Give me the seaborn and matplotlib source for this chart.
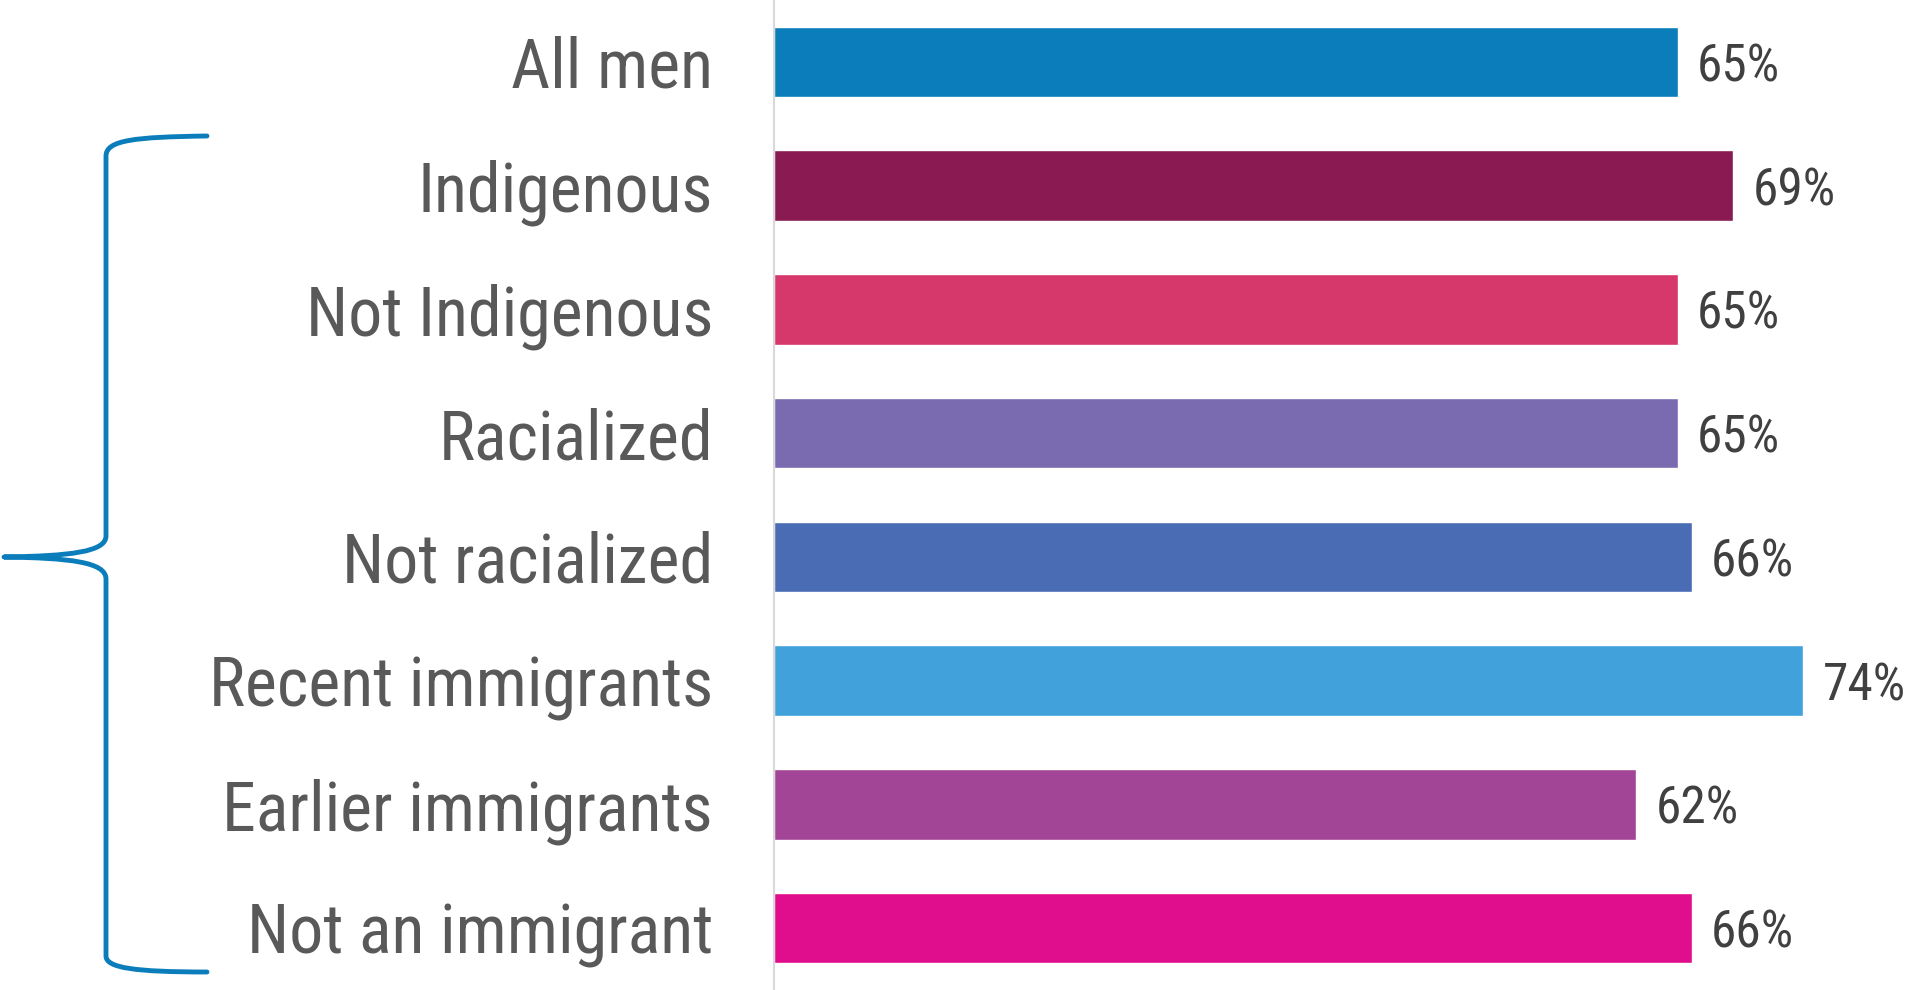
import matplotlib
matplotlib.use("Agg")
import matplotlib.pyplot as plt
import matplotlib.patches as mpatches
from matplotlib.path import Path
import pandas as pd
import seaborn as sns

categories = ["All men", "Indigenous", "Not Indigenous", "Racialized",
              "Not racialized", "Recent immigrants", "Earlier immigrants",
              "Not an immigrant"]
values     = [65, 69, 65, 65, 66, 74, 62, 66]
colors     = ["#0A7DBA", "#8A1A52", "#D6386B", "#7A6BB0",
              "#4A6CB4", "#41A2DB", "#A24596", "#E00E8C"]

sns.set_style("white")
plt.rcParams["font.family"] = ["Roboto Condensed", "Liberation Sans", "DejaVu Sans"]

W, H = 1910, 990
fig = plt.figure(figsize=(W / 100, H / 100), dpi=100)
ax  = fig.add_axes([774 / W, 0, 1 - 774 / W, 1])

df = pd.DataFrame({"category": categories, "value": values})
sns.barplot(data=df, y="category", x="value", hue="category",
            palette=colors, orient="h", width=0.57, legend=False,
            saturation=1, ax=ax)

for cont in ax.containers:
    for t in ax.bar_label(cont, labels=[f"{v:.0f}%" for v in cont.datavalues],
                          padding=14, fontsize=37, color="#404040"):
        t.set_va("center_baseline")

ax.set_xlim(0, 81.7)
ax.set_ylim(7.5, -0.5)
ax.set_xlabel("")
ax.set_ylabel("")
ax.set_xticks([])
ax.tick_params(axis="y", length=0, pad=44, labelsize=49, labelcolor="#595959")
for side in ["top", "right", "bottom"]:
    ax.spines[side].set_visible(False)
ax.spines["left"].set_color("#D9D9D9")
ax.spines["left"].set_linewidth(1.5)

# curly brace grouping the breakdown rows (figure pixel coords, y from top)
def fp(x, y):
    return (x / W, 1 - y / H)

verts = [fp(207, 136), fp(135, 137), fp(106, 140), fp(106, 156),
         fp(106, 536),
         fp(106, 552), fp(70, 556), fp(4, 557),
         fp(70, 558), fp(106, 562), fp(106, 579),
         fp(106, 956),
         fp(106, 968), fp(135, 972), fp(207, 972)]
codes = [Path.MOVETO, Path.CURVE4, Path.CURVE4, Path.CURVE4,
         Path.LINETO,
         Path.CURVE4, Path.CURVE4, Path.CURVE4,
         Path.CURVE4, Path.CURVE4, Path.CURVE4,
         Path.LINETO,
         Path.CURVE4, Path.CURVE4, Path.CURVE4]
brace = mpatches.PathPatch(Path(verts, codes), transform=fig.transFigure,
                           facecolor="none", edgecolor="#0A7DBA", linewidth=3.5,
                           capstyle="round", joinstyle="round")
fig.patches.append(brace)

fig.savefig("out.png", dpi=100)
